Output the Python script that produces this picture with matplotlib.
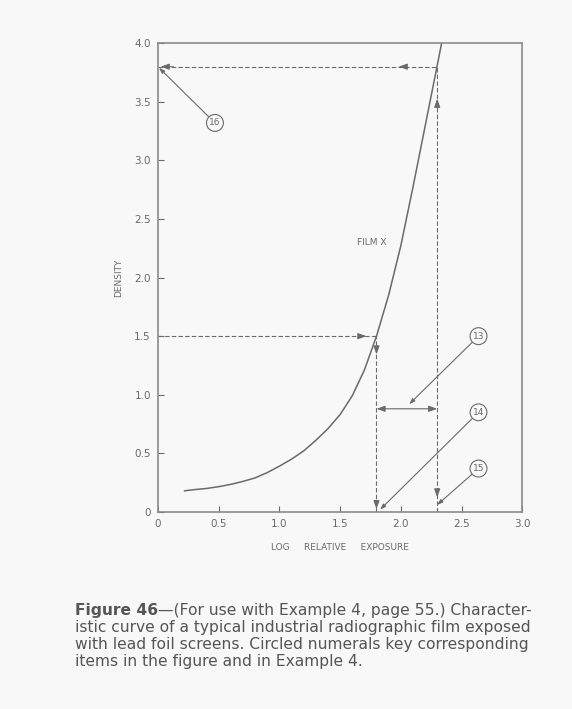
import numpy as np
import matplotlib.pyplot as plt

# Characteristic curve of film X
log_exposure = [0.22, 0.3, 0.4, 0.5, 0.6, 0.7, 0.8, 0.9, 1.0, 1.1, 1.2, 1.3,
                1.4, 1.5, 1.6, 1.7, 1.8, 1.9, 2.0, 2.1, 2.2, 2.3, 2.336]
density = [0.18, 0.19, 0.20, 0.215, 0.235, 0.26, 0.29, 0.335, 0.39, 0.45, 0.52, 0.61,
           0.71, 0.83, 0.99, 1.21, 1.50, 1.85, 2.27, 2.77, 3.29, 3.81, 4.0]

x_ticks = [0, 0.5, 1.0, 1.5, 2.0, 2.5, 3.0]
x_tick_labels = ['0', '0.5', '1.0', '1.5', '2.0', '2.5', '3.0']
y_ticks = [0, 0.5, 1.0, 1.5, 2.0, 2.5, 3.0, 3.5, 4.0]
y_tick_labels = ['0', '0.5', '1.0', '1.5', '2.0', '2.5', '3.0', '3.5', '4.0']

# worked example values
x_low, x_high = 1.8, 2.3
d_low, d_high = 1.5, 3.8
gap_y = 0.88

# circled numerals: label, text position, arrow tip
callouts = [('13', (2.64, 1.50), (2.07, 0.92)),
            ('14', (2.64, 0.85), (1.83, 0.02)),
            ('15', (2.64, 0.37), (2.30, 0.06)),
            ('16', (0.47, 3.32), (0.01, 3.79))]

ink = '#6a6a6a'
bg = '#f8f8f8'

fig = plt.figure(figsize=(5.72, 7.09), dpi=100, facecolor=bg)
ax = fig.add_axes([0.276, 0.278, 0.637, 0.661], facecolor=bg)

ax.plot(log_exposure, density, color=ink, lw=1.1)

ax.set_xlim(0, 3.0)
ax.set_ylim(0, 4.0)
ax.set_xticks(x_ticks)
ax.set_xticklabels(x_tick_labels)
ax.set_yticks(y_ticks)
ax.set_yticklabels(y_tick_labels)
ax.tick_params(direction='in', length=4, width=0.8, color=ink,
               labelcolor=ink, labelsize=7.5, pad=5)
for s in ax.spines.values():
    s.set_color('#8a8a8a')
    s.set_linewidth(1.2)

ax.set_ylabel('DENSITY', color=ink, fontsize=6.5, labelpad=8)
ax.set_xlabel('LOG     RELATIVE     EXPOSURE', color=ink, fontsize=6.5, labelpad=10)

dash = dict(color=ink, lw=0.8, ls=(0, (4, 2)))
# reading lines
ax.plot([0, 2.3], [d_high, d_high], **dash)
ax.plot([x_high, x_high], [0, d_high], **dash)
ax.plot([0, x_low], [d_low, d_low], **dash)
ax.plot([x_low, x_low], [0, d_low], **dash)

head = dict(arrowstyle='-|>,head_length=0.5,head_width=0.18', color=ink, lw=0.8)
# arrowheads along the reading lines
ax.annotate('', xy=(0.0, d_high), xytext=(0.15, d_high), arrowprops=head)
ax.annotate('', xy=(1.96, d_high), xytext=(2.03, d_high), arrowprops=head)
ax.annotate('', xy=(x_high, 3.55), xytext=(x_high, 3.45), arrowprops=head)
ax.annotate('', xy=(1.74, d_low), xytext=(1.64, d_low), arrowprops=head)
ax.annotate('', xy=(x_low, 1.32), xytext=(x_low, 1.42), arrowprops=head)
ax.annotate('', xy=(x_low, 0.0), xytext=(x_low, 0.1), arrowprops=head)
ax.annotate('', xy=(x_high, 0.1), xytext=(x_high, 0.2), arrowprops=head)

# exposure difference
ax.annotate('', xy=(x_low, gap_y), xytext=(x_high, gap_y),
            arrowprops=dict(arrowstyle='<|-|>,head_length=0.5,head_width=0.18',
                            color=ink, lw=0.8, shrinkA=0, shrinkB=0))

ax.text(1.76, 2.3, 'FILM X', color=ink, fontsize=6.5, ha='center', va='center')

for label, pos, tip in callouts:
    ax.annotate(label, xy=tip, xytext=pos, ha='center', va='center',
                fontsize=6.5, color=ink,
                bbox=dict(boxstyle='circle,pad=0.3', fc=bg, ec=ink, lw=0.8),
                arrowprops=dict(arrowstyle='-|>,head_length=0.5,head_width=0.18',
                                color=ink, lw=0.8, shrinkA=0, shrinkB=0))

# caption
cap_color = '#555555'
cap_size = 11.2
y0 = 0.1326
dy = 0.0242
fig.canvas.draw()
t0 = fig.text(0.131, y0, 'Figure 46', fontsize=cap_size, fontweight='bold',
              color=cap_color, va='baseline')
bb = t0.get_window_extent(renderer=fig.canvas.get_renderer())
fig.text(bb.x1 / fig.bbox.width, y0,
         '\u2014(For use with Example 4, page 55.) Character-',
         fontsize=cap_size, color=cap_color, va='baseline')
caption_lines = ['istic curve of a typical industrial radiographic film exposed',
                 'with lead foil screens. Circled numerals key corresponding',
                 'items in the figure and in Example 4.']
for i, line in enumerate(caption_lines):
    fig.text(0.131, y0 - dy * (i + 1), line, fontsize=cap_size,
             color=cap_color, va='baseline')

fig.savefig('out.png', dpi=100, facecolor=bg)
